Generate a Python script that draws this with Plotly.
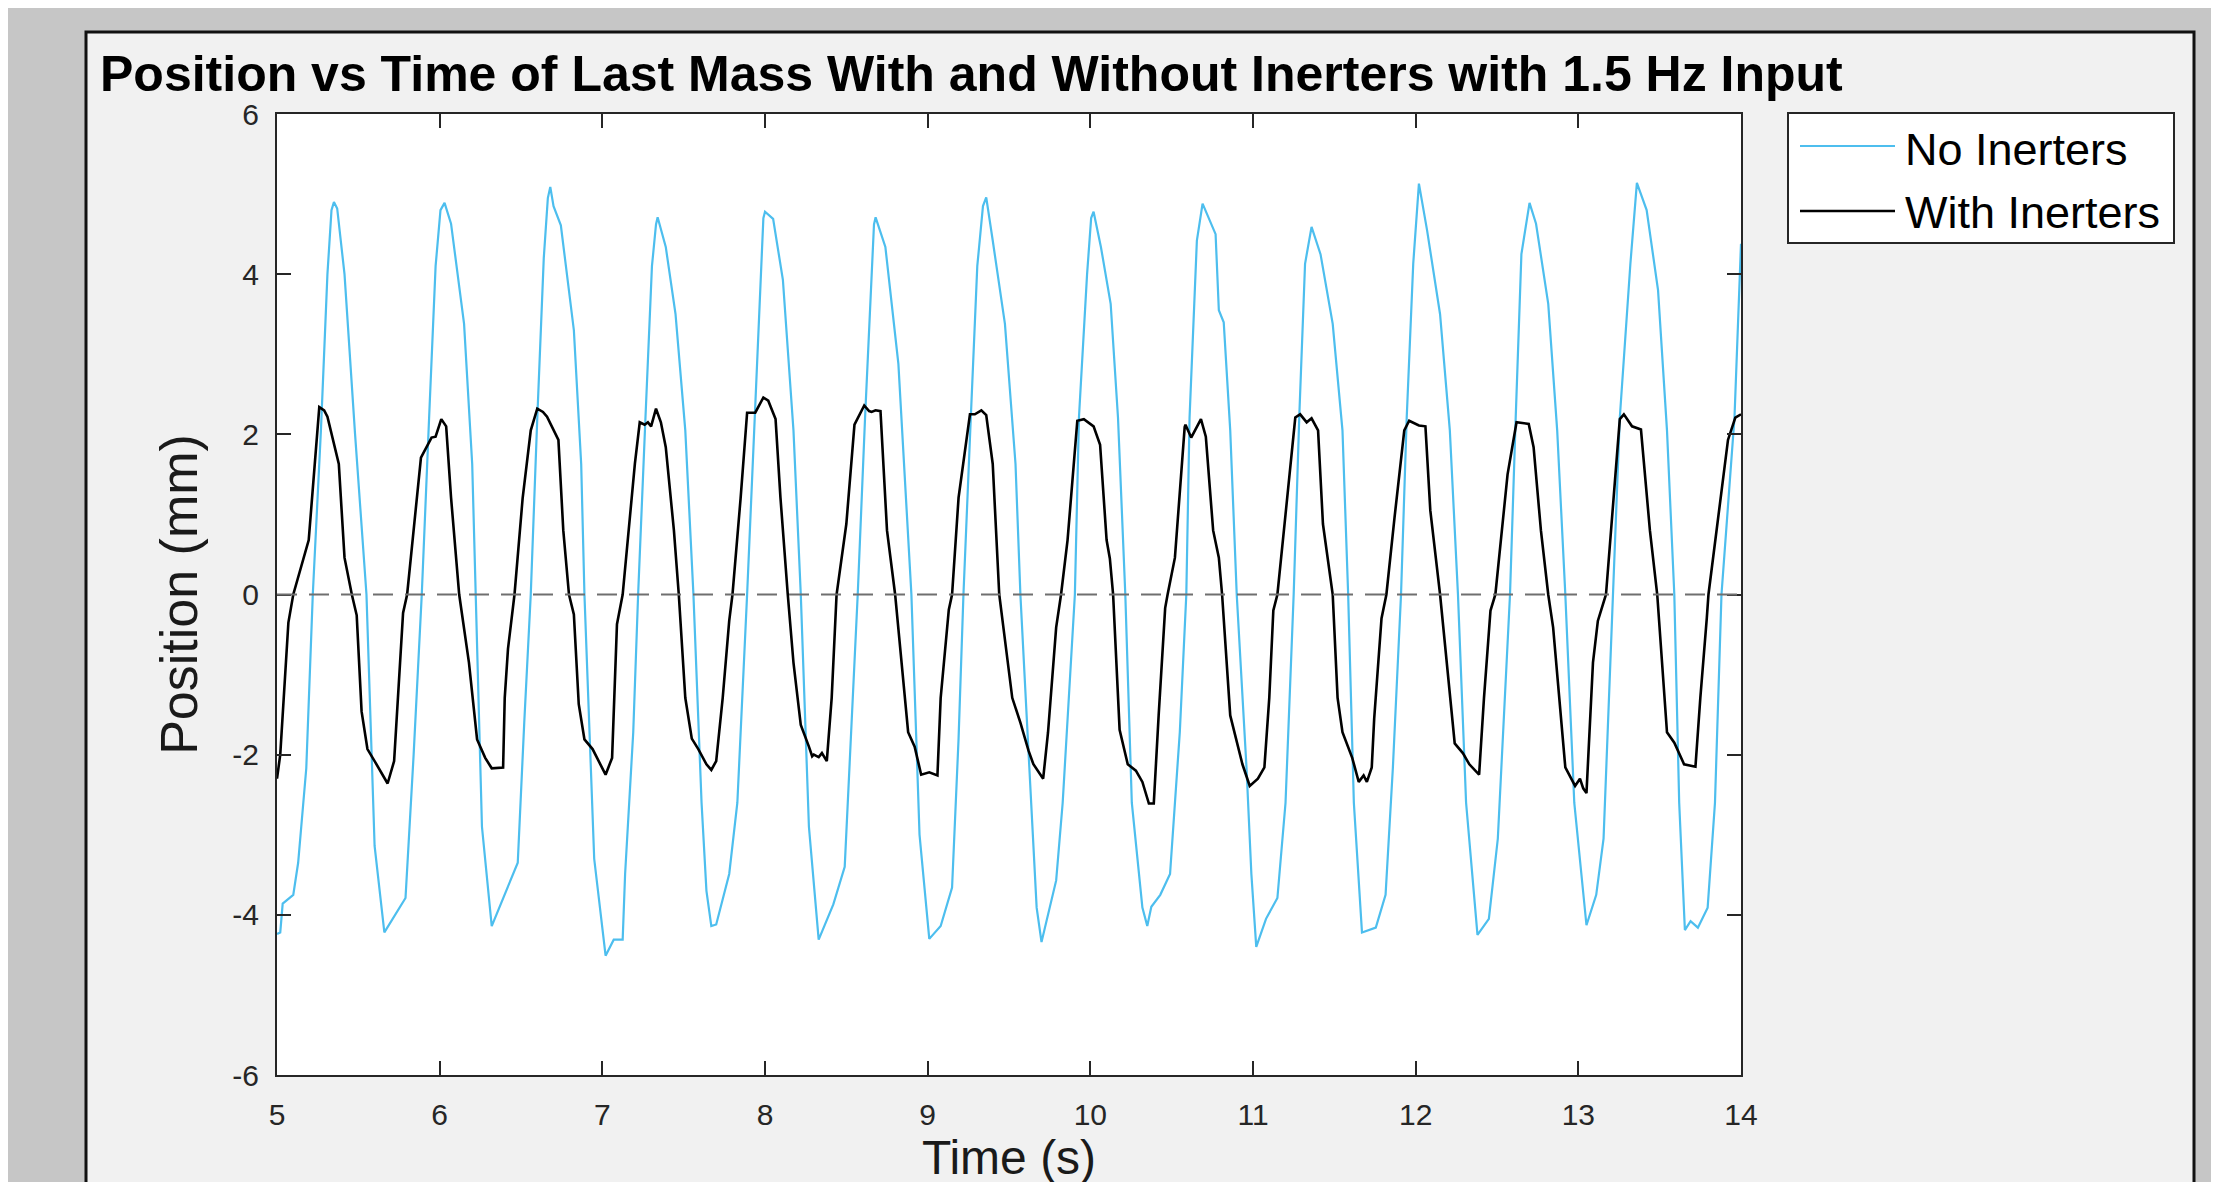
import plotly.graph_objects as go

# No Inerters (blue) - time (s) and position (mm)
t_no = [5.00, 5.02, 5.035, 5.10, 5.13, 5.18, 5.22, 5.27, 5.31, 5.335, 5.35, 5.37, 5.415, 5.48, 5.55,
        5.60, 5.66, 5.72, 5.79, 5.84, 5.89, 5.935, 5.975, 6.005, 6.03, 6.07, 6.15, 6.20, 6.22, 6.26,
        6.32, 6.37, 6.42, 6.48, 6.52, 6.56, 6.60, 6.64, 6.665, 6.68, 6.70, 6.745, 6.825, 6.87, 6.89,
        6.95, 7.02, 7.07, 7.125, 7.14, 7.19, 7.22, 7.265, 7.305, 7.33, 7.34, 7.39, 7.45, 7.51, 7.56,
        7.61, 7.64, 7.67, 7.70, 7.78, 7.83, 7.89, 7.935, 7.975, 7.99, 8.00, 8.05, 8.11, 8.175, 8.22,
        8.27, 8.33, 8.42, 8.49, 8.53, 8.57, 8.615, 8.655, 8.67, 8.68, 8.74, 8.82, 8.865, 8.90, 8.95,
        9.01, 9.08, 9.15, 9.19, 9.22, 9.265, 9.305, 9.34, 9.36, 9.40, 9.475, 9.54, 9.57, 9.625, 9.67,
        9.70, 9.79, 9.83, 9.905, 9.93, 9.98, 10.005, 10.02, 10.065, 10.125, 10.17, 10.215, 10.255,
        10.32, 10.35, 10.375, 10.43, 10.49, 10.55, 10.59, 10.61, 10.655, 10.69, 10.74, 10.77, 10.79,
        10.82, 10.86, 10.90, 10.96, 10.99, 11.02, 11.08, 11.15, 11.20, 11.25, 11.285, 11.32, 11.36,
        11.415, 11.49, 11.55, 11.585, 11.62, 11.67, 11.755, 11.815, 11.86, 11.91, 11.945, 11.985,
        12.02, 12.07, 12.15, 12.21, 12.26, 12.31, 12.38, 12.45, 12.505, 12.58, 12.615, 12.65, 12.70,
        12.74, 12.815, 12.87, 12.92, 12.975, 13.05, 13.11, 13.155, 13.215, 13.255, 13.32, 13.36,
        13.42, 13.49, 13.545, 13.59, 13.62, 13.655, 13.69, 13.735, 13.795, 13.84, 13.88, 13.96, 14.00]
pos_no = [-4.24, -4.22, -3.86, -3.75, -3.35, -2.17, 0.0, 2.05, 4.0, 4.8, 4.90, 4.82, 4.0, 2.0, 0.0,
          -3.14, -4.22, -4.02, -3.79, -2.0, 0.0, 2.2, 4.1, 4.8, 4.89, 4.63, 3.38, 1.63, 0.0, -2.9,
          -4.14, -3.9, -3.64, -3.35, -1.6, 0.0, 2.2, 4.2, 4.95, 5.09, 4.85, 4.61, 3.3, 1.63, 0.0,
          -3.3, -4.51, -4.31, -4.31, -3.49, -1.72, 0.0, 2.2, 4.1, 4.62, 4.71, 4.34, 3.5, 2.05, 0.0,
          -2.6, -3.7, -4.14, -4.12, -3.49, -2.6, 0.0, 2.2, 4.1, 4.7, 4.78, 4.69, 3.93, 2.05, 0.0,
          -2.9, -4.31, -3.87, -3.4, -1.7, 0.0, 2.2, 4.1, 4.62, 4.71, 4.34, 2.88, 1.21, 0.0, -3.0,
          -4.30, -4.14, -3.66, -1.8, 0.0, 2.2, 4.1, 4.85, 4.96, 4.42, 3.38, 1.63, 0.0, -2.16, -3.91,
          -4.34, -3.57, -2.6, 0.0, 2.21, 4.0, 4.7, 4.78, 4.34, 3.63, 2.21, 0.0, -2.6,
          -3.91, -4.14, -3.9, -3.75, -3.49, -1.72, 0.0, 2.21, 4.42, 4.88, 4.63, 4.5, 3.55,
          3.4, 2.05, 0.0, -2.16, -3.49, -4.40, -4.05, -3.79, -2.6, 0.0, 2.25, 4.13, 4.59,
          4.25, 3.38, 2.05, 0.0, -2.6, -4.22, -4.16, -3.75, -2.16, 0.0, 2.21, 4.13,
          5.13, 4.55, 3.5, 2.05, 0.0, -2.6, -4.25, -4.05, -3.05, 0.0, 2.21, 4.25, 4.89,
          4.63, 3.63, 2.05, 0.0, -2.6, -4.13, -3.75, -3.05, 0.0, 2.21, 4.13, 5.14,
          4.8, 3.8, 2.05, 0.0, -2.6, -4.19, -4.08, -4.16, -3.91, -2.6, 0.0, 2.21, 4.38]

# With Inerters (black)
t_with = [5.00, 5.02, 5.07, 5.10, 5.195, 5.23, 5.26, 5.29, 5.31, 5.38, 5.415, 5.46, 5.49, 5.52, 5.556,
          5.60, 5.68, 5.72, 5.745, 5.775, 5.80, 5.885, 5.95, 5.975, 6.01, 6.04, 6.07, 6.12, 6.18, 6.23,
          6.28, 6.32, 6.39, 6.40, 6.42, 6.46, 6.51, 6.56, 6.60, 6.635, 6.66, 6.73, 6.76, 6.795, 6.825,
          6.855, 6.89, 6.94, 6.97, 7.02, 7.06, 7.09, 7.125, 7.20, 7.23, 7.26, 7.28, 7.30, 7.33, 7.36,
          7.39, 7.44, 7.47, 7.51, 7.55, 7.59, 7.64, 7.67, 7.70, 7.74, 7.78, 7.80, 7.85, 7.89, 7.94,
          7.99, 8.02, 8.065, 8.095, 8.13, 8.14, 8.175, 8.22, 8.27, 8.29, 8.30, 8.33, 8.35, 8.38, 8.41,
          8.44, 8.50, 8.55, 8.61, 8.64, 8.655, 8.68, 8.71, 8.75, 8.80, 8.88, 8.92, 8.96, 9.01, 9.06,
          9.08, 9.13, 9.15, 9.19, 9.26, 9.29, 9.33, 9.36, 9.40, 9.44, 9.52, 9.57, 9.62, 9.65, 9.71,
          9.74, 9.79, 9.82, 9.86, 9.92, 9.96, 10.02, 10.06, 10.10, 10.12, 10.14, 10.18, 10.23, 10.28,
          10.32, 10.36, 10.39, 10.42, 10.46, 10.475, 10.52, 10.58, 10.585, 10.62, 10.68, 10.71, 10.755,
          10.79, 10.81, 10.86, 10.935, 10.98, 11.03, 11.07, 11.10, 11.125, 11.15, 11.20, 11.26, 11.29,
          11.33, 11.36, 11.40, 11.43, 11.49, 11.52, 11.55, 11.61, 11.65, 11.68, 11.70, 11.73, 11.745,
          11.79, 11.82, 11.87, 11.93, 11.96, 12.02, 12.06, 12.09, 12.15, 12.21, 12.24, 12.29, 12.33,
          12.39, 12.42, 12.46, 12.49, 12.565, 12.62, 12.695, 12.725, 12.77, 12.815, 12.845, 12.92,
          12.98, 13.01, 13.03, 13.05, 13.09, 13.12, 13.17, 13.20, 13.255, 13.28, 13.33, 13.385, 13.44,
          13.485, 13.545, 13.59, 13.65, 13.72, 13.75, 13.79, 13.80, 13.92, 13.965, 14.00]
pos_with = [-2.30, -2.0, -0.35, 0.0, 0.68, 1.6, 2.34, 2.3, 2.22, 1.63, 0.46, 0.0, -0.26, -1.46, -1.93,
            -2.08, -2.36, -2.08, -1.28, -0.23, 0.0, 1.71, 1.96, 1.97, 2.19, 2.1, 1.21, 0.0, -0.85, -1.81,
            -2.04, -2.17, -2.16, -1.29, -0.68, 0.0, 1.2, 2.05, 2.32, 2.28, 2.22, 1.93, 0.8, 0.0, -0.25,
            -1.37, -1.81, -1.93, -2.05, -2.25, -2.04, -0.37, 0.0, 1.63, 2.15, 2.12, 2.15, 2.1, 2.32, 2.15,
            1.84, 0.8, 0.0, -1.29, -1.8, -1.93, -2.12, -2.19, -2.08, -1.29, -0.33, 0.0, 1.2, 2.27, 2.27,
            2.46, 2.42, 2.19, 1.21, 0.21, 0.0, -0.85, -1.63, -1.9, -2.02, -2.0, -2.03, -1.98, -2.08, -1.29,
            0.0, 0.88, 2.12, 2.36, 2.29, 2.28, 2.30, 2.29, 0.8, 0.0, -1.72, -1.9, -2.25, -2.22, -2.26,
            -1.29, -0.19, 0.0, 1.21, 2.25, 2.25, 2.3, 2.24, 1.63, 0.0, -1.29, -1.6, -1.95, -2.12, -2.3,
            -1.72, -0.41, 0.0, 0.68, 2.17, 2.19, 2.1, 1.87, 0.68, 0.45, 0.0, -1.69, -2.12, -2.2,
            -2.34, -2.61, -2.61, -1.51, -0.17, 0.0, 0.46, 2.09, 2.12, 1.96, 2.19, 1.97, 0.8,
            0.46, 0.0, -1.51, -2.12, -2.39, -2.3, -2.16, -1.29, -0.2, 0.0, 1.0, 2.21, 2.25,
            2.15, 2.2, 2.05, 0.88, 0.0, -1.29, -1.72, -2.04, -2.34, -2.26, -2.34, -2.16, -1.55,
            -0.3, 0.0, 0.96, 2.05, 2.17, 2.11, 2.1, 1.05, 0.0, -1.29, -1.86, -1.98, -2.12,
            -2.25, -1.29, -0.2, 0.0, 1.5, 2.15, 2.13, 1.84, 0.8, 0.0, -0.41, -2.16,
            -2.39, -2.3, -2.42, -2.48, -0.85, -0.33, 0.0, 0.8, 2.19, 2.25, 2.1, 2.06, 0.8,
            0.0, -1.72, -1.85, -2.12, -2.15, -1.29, -0.29, 0.0, 1.93, 2.21, 2.25]

x_ticks = [5, 6, 7, 8, 9, 10, 11, 12, 13, 14]
y_ticks = [-6, -4, -2, 0, 2, 4, 6]
y_tick_labels = ["-6", "-4", "-2", "0", "2", "4", "6"]

W, H = 2219, 1182
L, R, T, B = 269, 1733, 106, 1067   # plot area in pixels
FONT = "Liberation Sans, Arial, Helvetica, sans-serif"
AX = "#262626"


def px(x):
    return (x - L) / (R - L)


def py(y):
    return (B - y) / (B - T)


fig = go.Figure()
fig.add_trace(go.Scatter(x=t_no, y=pos_no, mode="lines", name="No Inerters",
                         line=dict(color="#4DBEEE", width=2.2)))
fig.add_trace(go.Scatter(x=t_with, y=pos_with, mode="lines", name="With Inerters",
                         line=dict(color="#000000", width=2.6)))

shapes = [
    # slide panel
    dict(type="rect", xref="paper", yref="paper", x0=px(78), x1=px(2186), y0=py(1260), y1=py(24),
         fillcolor="#f1f1f1", line=dict(color="#111111", width=3), layer="below"),
    # white axes background
    dict(type="rect", xref="paper", yref="paper", x0=0, x1=1, y0=0, y1=1,
         fillcolor="white", line=dict(width=0), layer="below"),
    # zero reference
    dict(type="line", xref="x domain", yref="y", x0=0, x1=1, y0=0, y1=0,
         line=dict(color="#6f6f6f", width=2, dash="20px,12px")),
    # legend box
    dict(type="rect", xref="paper", yref="paper", x0=px(1780), x1=px(2166), y0=py(235), y1=py(105),
         fillcolor="white", line=dict(color="#262626", width=2)),
    dict(type="line", xref="paper", yref="paper", x0=px(1792), x1=px(1887), y0=py(138), y1=py(138),
         line=dict(color="#4DBEEE", width=2.2)),
    dict(type="line", xref="paper", yref="paper", x0=px(1792), x1=px(1887), y0=py(203), y1=py(203),
         line=dict(color="#000000", width=2.6)),
]

annotations = [
    dict(text="No Inerters", xref="paper", yref="paper", x=px(1895), y=py(142), xanchor="left",
         yanchor="middle", showarrow=False, font=dict(family=FONT, size=45, color="black")),
    dict(text="With Inerters", xref="paper", yref="paper", x=px(1895), y=py(205), xanchor="left",
         yanchor="middle", showarrow=False, font=dict(family=FONT, size=45, color="black")),
]

axis_common = dict(showline=True, linecolor=AX, linewidth=2, mirror="ticks", ticks="inside",
                   ticklen=14, tickwidth=2, tickcolor=AX, showgrid=False, zeroline=False,
                   tickfont=dict(family=FONT, size=30, color=AX))

fig.update_layout(
    width=W, height=H,
    margin=dict(l=L, r=W - R, t=T, b=H - B),
    paper_bgcolor="#c6c6c6",
    plot_bgcolor="white",
    showlegend=False,
    font=dict(family=FONT, color="black"),
    title=dict(text="<b>Position vs Time of Last Mass With and Without Inerters with 1.5 Hz Input</b>",
               x=92 / W, xanchor="left", xref="container", y=1 - 65 / H, yanchor="middle",
               yref="container", font=dict(family=FONT, size=50, color="black")),
    xaxis=dict(range=[5, 14], tickvals=x_ticks, ticklabelstandoff=12,
               title=dict(text="Time (s)", font=dict(family=FONT, size=48, color="#1a1a1a"), standoff=0),
               **axis_common),
    yaxis=dict(range=[-6, 6], tickvals=y_ticks, ticktext=y_tick_labels, ticklabelstandoff=10,
               title=dict(text="Position (mm)", font=dict(family=FONT, size=52, color="#1a1a1a"), standoff=18),
               **axis_common),
    shapes=shapes,
    annotations=annotations,
)

fig.write_html("out.html")
